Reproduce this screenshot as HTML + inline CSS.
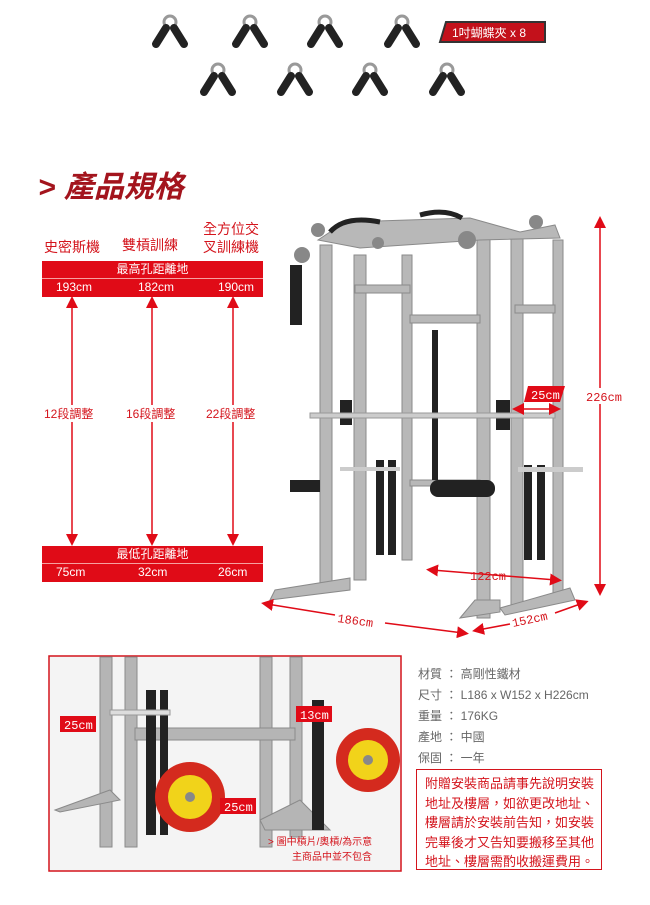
<!DOCTYPE html>
<html><head><meta charset="utf-8"><style>
body{margin:0;width:650px;height:905px;background:#fff;position:relative;overflow:hidden;font-family:"Liberation Sans","Noto Sans CJK TC",sans-serif}
.a{position:absolute}
.red{color:#d4141c}
.bar{position:absolute;left:42px;width:221px;background:#e00b17;color:#fff;font-size:12px;text-align:center}
.row{position:absolute;left:42px;width:221px;background:#e00b17;color:#fff;font-size:12px;border-top:1px solid #f6a0a0}
.row span{position:absolute;top:1px}
.spec{position:absolute;left:418px;font-size:12px;color:#666}
</style></head><body>
<!-- clips -->
<svg class="a" style="left:0;top:0" width="650" height="110">
<defs><g id="c"><circle cx="0" cy="0" r="6" fill="none" stroke="#999" stroke-width="3"/><path d="M-4 6 L-14 22" stroke="#222" stroke-width="8" stroke-linecap="round"/><path d="M4 6 L14 22" stroke="#222" stroke-width="8" stroke-linecap="round"/></g></defs>
<use href="#c" x="170" y="22"/><use href="#c" x="250" y="22"/><use href="#c" x="325" y="22"/><use href="#c" x="402" y="22"/>
<use href="#c" x="218" y="70"/><use href="#c" x="295" y="70"/><use href="#c" x="370" y="70"/><use href="#c" x="447" y="70"/>
<polygon points="446,22 545,22 545,42 440,42" fill="#c3111b" stroke="#333" stroke-width="2"/>
<text x="452" y="37" font-size="12" fill="#fff" font-family="Liberation Sans,Noto Sans CJK TC,sans-serif">1吋蝴蝶夾 x 8</text>
</svg>
<div class="a" style="left:38px;top:162px;font-size:30px;font-weight:bold;font-style:italic;color:#a3141d">&gt; 產品規格</div>
<div class="a red" style="left:44px;top:237px;font-size:14px">史密斯機</div>
<div class="a red" style="left:122px;top:235px;font-size:14px">雙槓訓練</div>
<div class="a red" style="left:203px;top:220px;font-size:14px;line-height:18px;text-align:center">全方位交<br>叉訓練機</div>
<div class="bar" style="top:261px;height:17px;line-height:17px">最高孔距離地</div>
<div class="row" style="top:278px;height:18px"><span style="left:14px">193cm</span><span style="left:96px">182cm</span><span style="left:176px">190cm</span></div>
<div class="bar" style="top:546px;height:17px;line-height:17px">最低孔距離地</div>
<div class="row" style="top:563px;height:18px"><span style="left:14px">75cm</span><span style="left:96px">32cm</span><span style="left:176px">26cm</span></div>
<svg class="a" style="left:0;top:0" width="650" height="905">
<defs><marker id="m" markerWidth="8" markerHeight="8" refX="4" refY="4" orient="auto-start-reverse"><path d="M0,0 L8,4 L0,8z" fill="#e00b17"/></marker></defs>
<g stroke="#e00b17" stroke-width="1.5" marker-start="url(#m)">
<line x1="72" y1="302" x2="72" y2="405"/><line x1="152" y1="302" x2="152" y2="405"/><line x1="233" y1="302" x2="233" y2="405"/>
</g>
<g stroke="#e00b17" stroke-width="1.5" marker-end="url(#m)">
<line x1="72" y1="422" x2="72" y2="540"/><line x1="152" y1="422" x2="152" y2="540"/><line x1="233" y1="422" x2="233" y2="540"/>
</g>
<g font-size="12" fill="#d4141c" font-family="Liberation Sans,Noto Sans CJK TC,sans-serif">
<text x="44" y="418">12段調整</text><text x="126" y="418">16段調整</text><text x="206" y="418">22段調整</text></g>
<!-- machine -->
<g fill="#b8b8b8" stroke="#8a8a8a" stroke-width="1">
<rect x="320" y="245" width="12" height="345"/><rect x="354" y="255" width="12" height="325"/>
<rect x="402" y="255" width="10" height="305"/><rect x="477" y="228" width="13" height="390"/>
<rect x="511" y="235" width="12" height="370"/><rect x="553" y="240" width="10" height="360"/>
<rect x="355" y="285" width="55" height="8"/><rect x="410" y="315" width="70" height="8"/><rect x="410" y="480" width="70" height="6"/>
<rect x="515" y="305" width="40" height="8"/>
<polygon points="318,240 345,222 470,218 520,232 555,225 560,238 480,240 360,248"/>
<polygon points="270,600 275,590 350,578 350,590"/><polygon points="460,618 475,600 500,600 500,612"/>
<polygon points="500,608 570,588 575,600 505,615"/>
</g>
<g fill="#222">
<rect x="376" y="460" width="8" height="95"/><rect x="388" y="460" width="8" height="95"/>
<rect x="524" y="465" width="8" height="95"/><rect x="537" y="465" width="8" height="95"/>
<rect x="432" y="330" width="6" height="150"/><rect x="430" y="480" width="65" height="17" rx="8"/>
<rect x="340" y="400" width="12" height="25"/><rect x="496" y="400" width="14" height="30"/>
<rect x="290" y="480" width="30" height="12"/><rect x="290" y="265" width="12" height="60"/>
<path d="M330 232 Q345 215 380 222" stroke="#222" stroke-width="5" fill="none"/>
<path d="M420 215 Q445 208 462 218" stroke="#222" stroke-width="5" fill="none"/>
</g>
<g fill="#888"><circle cx="318" cy="230" r="7"/><circle cx="302" cy="255" r="8"/><circle cx="467" cy="240" r="9"/><circle cx="536" cy="222" r="7"/><circle cx="378" cy="243" r="6"/></g>
<rect x="310" y="413" width="245" height="5" fill="#ccc" stroke="#999"/>
<rect x="340" y="467" width="60" height="4" fill="#ccc"/><rect x="518" y="467" width="65" height="5" fill="#ccc"/>
<!-- dimensions -->
<g stroke="#e00b17" stroke-width="1.5" marker-start="url(#m)" marker-end="url(#m)" fill="none">
<line x1="600" y1="222" x2="600" y2="590"/><line x1="432" y1="570" x2="556" y2="580"/>
<line x1="518" y1="409" x2="555" y2="409"/>
</g>
<g stroke="#e00b17" stroke-width="1.5" fill="none">
<line x1="267" y1="604" x2="335" y2="615" marker-start="url(#m)"/><line x1="385" y1="623" x2="463" y2="633" marker-end="url(#m)"/>
<line x1="478" y1="630" x2="510" y2="624" marker-start="url(#m)"/><line x1="555" y1="613" x2="583" y2="603" marker-end="url(#m)"/>
</g>
<g font-size="12" fill="#d4141c" font-family="Liberation Mono,monospace">
<rect x="588" y="388" width="32" height="16" fill="#fff"/>
<text x="586" y="401">226cm</text><text x="337" y="622" transform="rotate(8 337 622)">186cm</text>
<text x="513" y="627" transform="rotate(-12 513 627)">152cm</text><text x="470" y="580">122cm</text></g>
<polygon points="528,386 565,386 560,402 524,402" fill="#e00b17"/><text x="531" y="399" font-size="12" fill="#fff" font-family="Liberation Mono,monospace">25cm</text>
<!-- bottom photo -->
<rect x="49" y="656" width="352" height="215" fill="#f4f4f4" stroke="#d4141c" stroke-width="1.5"/>
<g fill="#b5b5b5" stroke="#8a8a8a">
<rect x="100" y="657" width="12" height="190"/><rect x="125" y="657" width="12" height="190"/>
<rect x="260" y="657" width="12" height="190"/><rect x="290" y="657" width="12" height="180"/>
<rect x="135" y="728" width="160" height="12"/><polygon points="55,810 110,790 120,800 60,812"/>
<polygon points="260,820 300,800 330,830 265,830"/>
</g>
<g fill="#222"><rect x="146" y="690" width="10" height="145"/><rect x="160" y="690" width="8" height="145"/><rect x="312" y="700" width="12" height="130"/></g>
<rect x="110" y="710" width="60" height="5" fill="#ddd" stroke="#999"/>
<circle cx="190" cy="797" r="35" fill="#d42a1e"/><circle cx="190" cy="797" r="22" fill="#f1d31a"/><circle cx="190" cy="797" r="5" fill="#888"/>
<circle cx="368" cy="760" r="32" fill="#d42a1e"/><circle cx="368" cy="760" r="20" fill="#f1d31a"/><circle cx="368" cy="760" r="5" fill="#888"/>
<rect x="60" y="716" width="36" height="16" fill="#e00b17"/><text x="64" y="729" font-size="12" fill="#fff" font-family="Liberation Mono,monospace">25cm</text>
<rect x="296" y="706" width="36" height="16" fill="#e00b17"/><text x="300" y="719" font-size="12" fill="#fff" font-family="Liberation Mono,monospace">13cm</text>
<rect x="220" y="798" width="36" height="16" fill="#e00b17"/><text x="224" y="811" font-size="12" fill="#fff" font-family="Liberation Mono,monospace">25cm</text>
<g font-size="10" fill="#d4141c" font-family="Liberation Sans,Noto Sans CJK TC,sans-serif">
<text x="268" y="845">&gt; 圖中槓片/奧槓/為示意</text><text x="292" y="860">主商品中並不包含</text></g>
</svg>
<div class="spec" style="top:665px">材質 ： 高剛性鐵材</div>
<div class="spec" style="top:686px">尺寸 ： L186 x W152 x H226cm</div>
<div class="spec" style="top:707px">重量 ： 176KG</div>
<div class="spec" style="top:728px">產地 ： 中國</div>
<div class="spec" style="top:749px">保固 ： 一年</div>
<div class="a" style="left:416px;top:769px;width:186px;height:101px;border:1.5px solid #d4141c;box-sizing:border-box;padding:4px 0 0 8px;font-size:13px;line-height:19.5px;color:#d4141c;white-space:nowrap">附贈安裝商品請事先說明安裝<br>地址及樓層，如欲更改地址、<br>樓層請於安裝前告知，如安裝<br>完畢後才又告知要搬移至其他<br>地址、樓層需酌收搬運費用。</div>
</body></html>
